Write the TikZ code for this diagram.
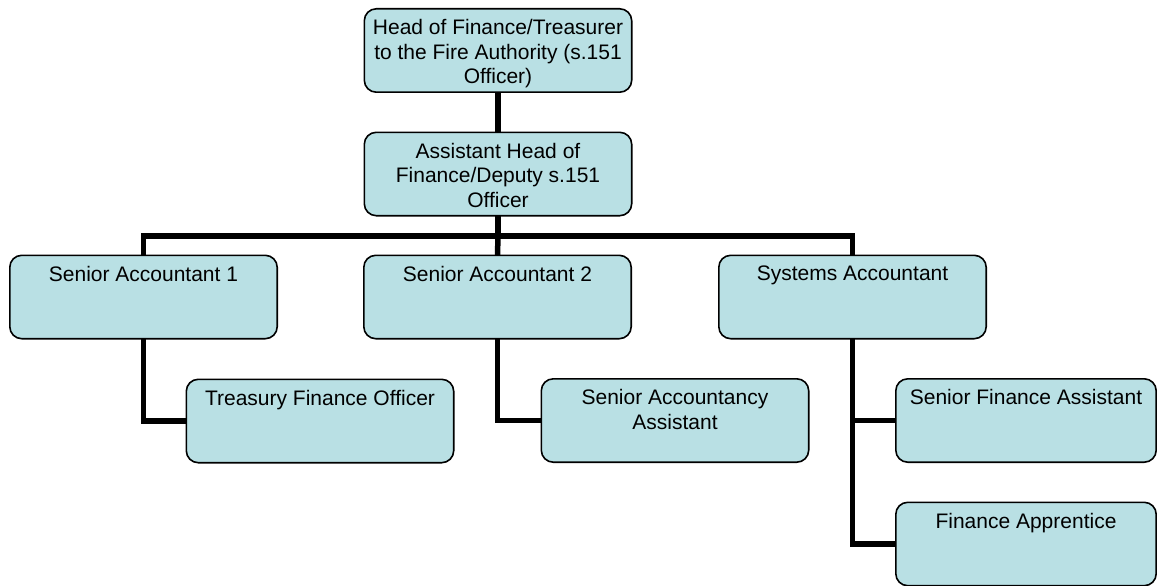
\documentclass[tikz,border=0pt]{standalone}
\usepackage{fontspec}
\setmainfont{Liberation Sans}
\definecolor{boxfill}{RGB}{185,224,228}
\tikzset{
  % invisible frame that fixes each box's size and anchors
  orgframe/.style={minimum height=83pt, inner sep=0pt},
  stdbox/.style={orgframe, minimum width=267pt},
  narrowbox/.style={orgframe, minimum width=260pt},
  boxshape/.style={draw=black, line width=1.6pt, fill=boxfill, rounded corners=12pt},
  boxtext/.style={anchor=north, inner sep=0pt, align=center,
                  font=\fontsize{21}{24.5}\selectfont, yshift=-10.5pt},
  link/.style={draw=black, line width=5.5pt, line join=miter}
}
\begin{document}
\begin{tikzpicture}[x=1pt, y=-1pt]
\useasboundingbox (0,0) rectangle (1157,586);

% box frames
\node[stdbox] (head)  at (498,50.5)   {};
\node[stdbox] (ahead) at (498,174)    {};
\node[stdbox] (sa1)   at (143.5,297)  {};
\node[stdbox] (sa2)   at (497.5,297)  {};
\node[stdbox] (sys)   at (852.5,297)  {};
\node[stdbox] (tfo)   at (320,421)    {};
\node[stdbox] (saa)   at (675,420.5)  {};
\node[narrowbox] (sfa) at (1026,420.5) {};
\node[narrowbox] (fa)  at (1026,544)   {};

% connectors
\coordinate (bus) at (498,236);
\draw[link] (head.south) -- (ahead.north);
\draw[link] (ahead.south) -- (bus);
\draw[link] (bus) -| (sa1.north);
\draw[link] (bus) -- (sa2.north);
\draw[link] (bus) -| (sys.north);
\draw[link] (sa1.south) |- (tfo.west);
\draw[link] (sa2.south) |- (saa.west);
\draw[link] (sys.south) |- (sfa.west);
\draw[link] (sys.south) |- (fa.west);

% rounded boxes over the connector ends
\foreach \b in {head,ahead,sa1,sa2,sys,tfo,saa,sfa,fa}{
  \draw[boxshape] (\b.north west) rectangle (\b.south east);
}

% labels
\node[boxtext] (thead) at (head.north) {Head of Finance/Treasurer\\to the Fire Authority (s.151\\Officer)};
\node[boxtext] (tahead) at (ahead.north) {Assistant Head of\\Finance/Deputy s.151\\Officer};
\node[boxtext] (tsa1) at (sa1.north) {Senior Accountant 1};
\node[boxtext] (tsa2) at (sa2.north) {Senior Accountant 2};
\node[boxtext] (tsys) at (sys.north) {Systems Accountant};
\node[boxtext] (ttfo) at (tfo.north) {Treasury Finance Officer};
\node[boxtext] (tsaa) at (saa.north) {Senior Accountancy\\Assistant};
\node[boxtext] (tsfa) at (sfa.north) {Senior Finance Assistant};
\node[boxtext] (tfa) at (fa.north) {Finance Apprentice};
\end{tikzpicture}
\end{document}
